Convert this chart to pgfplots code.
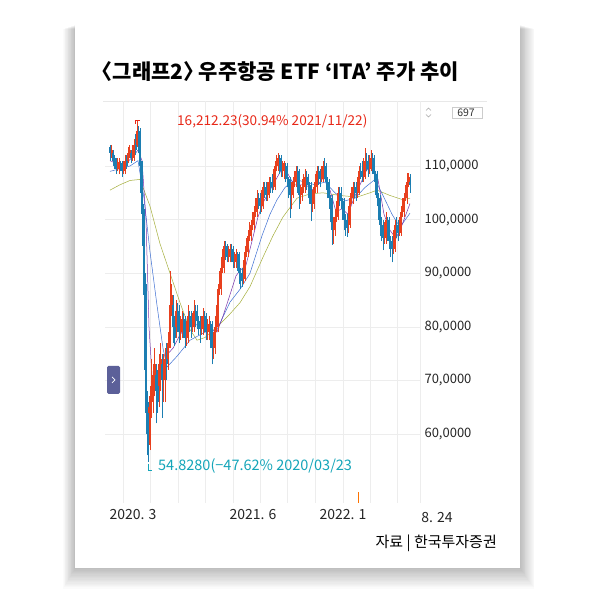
\documentclass[border=0pt]{standalone}
\usepackage{pgfplots}
\pgfplotsset{compat=1.18}
\usepackage{pgfplotstable}
\usepackage{fontspec}
\setmainfont{Noto Sans CJK KR}
\definecolor{upred}{RGB}{232,64,30}
\definecolor{dnblue}{RGB}{28,126,178}
\definecolor{annred}{RGB}{232,40,24}
\definecolor{annteal}{RGB}{20,165,185}
\definecolor{mapurple}{RGB}{120,50,170}
\definecolor{mablue}{RGB}{60,110,210}
\definecolor{maolive}{RGB}{165,175,60}
\definecolor{btn}{RGB}{92,96,153}

\pgfplotstableread{
x o h l c
119 109.5 111.5 108.5 110.5
125 109 112 108.5 111
128 111 113.5 110.5 112.5
134 111.5 115 111 114
137 114 118.6 113.5 116.5
150 58 69 57 67
153 67 73 64 71
159 68 75 65 73
165 70 76 66 74
168 74 79 72 77
170 77 90.5 76 84
176 80 85 78 83
182 79 83 78 81.5
188 78 84 77 82
194 80 85 79 83
203 79.5 83.5 78.5 82
209 79 82 77.5 80.5
215 76 82 75 80
218 80 88 79 87
221 87 93 86 91
224 91 96 90 95
230 93 95.5 92 94.5
236 92 94.5 91 93.5
245 89 95 88.5 94
248 94 98 93 97
251 97 100 96 99
254 99 102.5 98 101.5
257 101.5 105.5 100.5 104
263 102.5 107 102 106
269 104.5 108 104 107
275 106 111 105.5 110
278 110 112.5 109 111.5
284 109 111 107.5 110
293 104.5 108 104 107
296 107 110 106 109
302 104.5 107.5 103.5 106
305 106 109.5 105 108
314 103 107 102 106
317 106 110 105 109
323 107.5 111 107 110
335 98 102 97 100.5
338 100.5 106 100 105
350 99 105 98.5 104
353 104 107 103 106
359 105 110 104.5 109
365 108 113.4 107.5 111
371 109.5 113 109 111.5
386 96.5 101.5 95.5 100
395 94.5 100 94 99
401 97.5 102.5 97 101.5
404 101.5 105 100.5 104
407 104 108.7 103 107
111.5 112 114 111.5 113
117.5 109.5 111.5 109 110.8
123.5 109 111 108.5 110.2
129.5 112.5 114 111.5 113
132.5 111.5 114 111 113
149 59 67 58 65
151.5 66 74 63 70
154.5 71 76 67 73
160.5 72 77 68 74
163.5 70 75 66 72
169 77 83 76 79
171.5 84 88 82 86
180.5 79 82 77.5 81
186.5 78 81 76.5 80
192.5 80 82.5 79 81.5
201.5 79.5 82 78.5 81
207.5 79 81.5 77.5 80
213.5 76 79 74 78
216.5 80 84 79 83
219.5 87 90.5 86 89
222.5 91 94.5 90 93
228.5 93 95 92 94
234.5 92 94 91 93
243.5 89 92.5 88 91.5
246.5 94 96.5 93 95.5
249.5 97 99.5 96 98
252.5 99 101.5 98 100
255.5 101.5 104 100.5 103
261.5 102.5 105.5 101.5 104.5
267.5 104.5 107 103.5 106
273.5 106 109.5 105.5 108.5
276.5 110 112 109 111
282.5 109 111 108 110.5
291.5 104.5 107 102 106
294.5 107 109 106 108
300.5 104.5 106.5 103 105.5
303.5 106 108.5 105 107.5
312.5 103 105.5 101.5 104.5
315.5 106 108.5 105 107.5
321.5 107.5 110 107 109
333.5 98 100.5 95.5 99
336.5 100.5 103.5 99.5 102.5
348.5 99 102.5 97.5 101.5
351.5 104 106 103 105
357.5 105 108 104 107
363.5 108 111.5 107 110
369.5 109.5 112 108.5 110.5
384.5 96.5 99.5 95.5 98.5
393.5 94.5 98 93.5 97
399.5 97.5 100.5 97 99.5
402.5 101.5 104 100.5 103
405.5 104 106.5 103.5 105.5
408.5 107 108.7 106 108
}\upcandles

\pgfplotstableread{
x o h l c
110 113.5 114 111 112.5
113 112.5 113 110 111
116 111 111.5 108.5 109.5
122 110.5 111 108 109
131 112.5 113 110.5 111.5
140 116.5 117 108 110
142 110 111 99 101
144 101 102 84 86
146 86 88 60 64
148 64 66 54.83 58
156 71 73 62 68
162 73 75 63 70
173 84 86 77 80
179 83 84 77 79
185 81.5 82 76 78
191 82 83 78 80
197 83 84 79.5 81
200 81 82 77 79.5
206 82 82.5 77.5 79
212 80.5 81 73 76
227 95 95.5 92 93
233 94.5 95 91 92
239 93.5 94 88 90
242 90 91 87.5 89
260 104 105 101 102.5
266 106 107 103.5 104.5
272 107 108.5 105 106
281 111.5 112 108 109
287 110 110.5 106 107.5
290 107.5 108 100.3 104.5
299 109 109.5 102 104.5
308 108 108.5 104 106.5
311 106.5 107 99.7 103
320 109 109.5 106 107.5
326 110 110.5 105.5 107
329 107 107.5 102 104
332 104 104.5 95.3 98
341 105 106 102 103.5
344 103.5 104 98 100
347 100 101 96.8 99
356 106 107 103.5 105
362 109 111 107 108
368 111 112 108 109.5
374 111.5 112 107 108.5
377 108.5 109 102.5 104
380 104 104.5 97 99
383 99 100 94.3 96.5
389 100 100.5 94.5 96
392 96 97 92 94.5
398 99 100 96 97.5
410 107 108.5 105 106.5
114.5 111.5 112 109.5 110
120.5 110.5 111 109 109.5
126.5 111 112 109.5 110
135.5 114 116 112 113
138.5 116 117.5 112.5 114
141 110 111 103 105
143 101 103 92 95
145 86 90 66 72
147 64 68 56 60
157.5 69 72 64 66
166.5 74 77 70 73
174.5 80 82 76.5 78
177.5 83 84.5 79 81
183.5 81.5 82.5 78 80
189.5 82 83 79 81
195.5 83 84 80 82
198.5 81 82 78.5 80
204.5 82 83 79 80.5
210.5 80.5 81 76 79
225.5 95 96 92.5 94
231.5 94.5 95.5 92 93
237.5 93.5 94 90.5 92
240.5 90 91 87 88.5
258.5 104 105 102 103
264.5 106 107 104 105
270.5 107 108 105 106.5
279.5 111.5 112 108.5 110
285.5 110 110.5 107 108.5
288.5 107.5 108 104 106
297.5 109 110 105 107
306.5 108 109 105.5 107
309.5 106.5 107 103 105
318.5 109 110 106.5 108
324.5 110 111.5 107.5 108.5
327.5 107 108 104 105.5
330.5 104 104.5 99.5 101
339.5 105 106 102.5 104
342.5 103.5 104 100 101.5
345.5 100 101 97 98.5
354.5 106 107 104 105.5
360.5 109 110.5 107.5 108.5
366.5 111 112.5 109 110
372.5 111.5 112.5 108.5 110
375.5 108.5 109 104.5 106
378.5 104 105 100 101.5
381.5 99 100.5 96 98
387.5 100 100.5 96 98
390.5 96 97 93 95
396.5 99 100.5 96.5 98
}\downcandles

\pgfplotstableread{
x y
110 111
116 110.5
122 110
128 110.8
134 112
138 113
142 111
146 100
149 80
153 68
158 70
163 73
168 75
173 76
180 78.5
186 80
192 80
198 80.5
204 80.5
210 79.5
217 79
223 82
230 86
236 89.5
240 90.5
246 91.5
252 96
258 100.5
264 103.5
270 105.5
276 107.5
282 109.5
288 108.5
294 106.5
300 106.5
306 106.5
312 105.5
318 106.5
324 108
330 105.5
336 101.5
342 102
348 101
354 104
360 106.5
366 109
372 110.5
378 107.5
384 101
390 98
396 96.5
402 99
410 103
}\mashort

\pgfplotstableread{
x y
110 109
120 109.5
130 110
138 111
144 104
150 94
157 84
163 76
167 72.5
177 74.5
190 77.5
205 79
217 79.5
230 84.6
240 87
250 90
262 97
270 101
277 103.7
285 106
295 107.5
305 107
315 106.5
325 107
335 105
345 103.5
355 104
365 106
375 107.5
383 104.5
392 101
400 98.6
410 101.2
}\mamid

\pgfplotstableread{
x y
110 105.5
120 106.5
130 107.3
140 107.5
150 102.5
160 95.5
170 90
180 84.5
190 79.5
197 77.5
205 78
217 80
228 82
240 84.5
250 87.5
263 93
273 97
283 100.5
297 104
310 104.8
323 105
340 104.5
357 104.2
370 105
377 105.5
390 104.5
403 103.7
410 104
}\malong

\begin{document}
\begin{tikzpicture}[x=1pt,y=1pt]
% page background
\fill[white] (0,0) rectangle (600,593);
% card shadow
\foreach \i in {1,...,16}{
  \fill[black,opacity=0.016] (75-\i*0.75,25-\i*1.3) rectangle (520+\i*0.9,568-\i*0.25);
}
\fill[white] (75,25) rectangle (520,568);

% title
\node[anchor=west,inner sep=0pt] at (102,521)
  {\bfseries\fontsize{21}{21}\selectfont \makebox[0.5em][r]{〈}그래프2\makebox[0.5em][l]{〉} 우주항공 ETF ‘ITA’ 주가 추이};

% top line
\draw[black!9,line width=0.6pt] (103,492) -- (487,492);

\begin{axis}[
  at={(105pt,90pt)}, anchor=south west,
  scale only axis, width=315pt, height=402pt,
  xmin=105, xmax=420, ymin=47.13, ymax=122.13,
  axis line style={draw=none},
  tick style={draw=none},
  clip=false,
  xtick={123,150,178,205,233,260,287,315,343,370,397,420},
  xticklabels={},
  xmajorgrids, ymajorgrids,
  grid style={black!7,line width=0.5pt},
  extra x ticks={133,253,343},
  extra x tick labels={2020. 3,2021. 6,2022. 1},
  extra x tick style={grid=none, xticklabel style={yshift=-3pt}},
  ytick={60,70,80,90,100,110},
  yticklabels={{60,0000},{70,0000},{80,0000},{90,0000},{100,0000},{110,0000}},
  yticklabel pos=right,
  yticklabel style={anchor=west,xshift=1pt},
  ticklabel style={font=\fontsize{13}{13}\selectfont, text=black!85},
  xticklabel style={font=\fontsize{14}{14}\selectfont},
  /pgf/number format/assume math mode=true,
]
% moving averages
\addplot[maolive, line width=0.5pt] table[x=x,y=y] {\malong};
\addplot[mablue, line width=0.5pt] table[x=x,y=y] {\mamid};
\addplot[mapurple, line width=0.5pt] table[x=x,y=y] {\mashort};
% wicks
\addplot[upred, line width=0.5pt, quiver={u=0, v=\thisrow{h}-\thisrow{l}}] table[x=x,y=l] {\upcandles};
\addplot[dnblue, line width=0.5pt, quiver={u=0, v=\thisrow{h}-\thisrow{l}}] table[x=x,y=l] {\downcandles};
% bodies
\addplot[upred, line width=2pt, quiver={u=0, v=\thisrow{c}-\thisrow{o}}] table[x=x,y=o] {\upcandles};
\addplot[dnblue, line width=2pt, quiver={u=0, v=\thisrow{c}-\thisrow{o}}] table[x=x,y=o] {\downcandles};
\end{axis}

% x label beyond plot
\node[font=\fontsize{14}{14}\selectfont, text=black!85] at (437,75.5) {8. 24};

% annotations
\node[anchor=west,inner sep=0pt,text=annred] at (177,472)
  {\fontsize{13.6}{13.6}\selectfont 16,212.23(30.94\% 2021/11/22)};
\draw[annred,line width=0.8pt] (135,469) -- (135,472.5) -- (140,472.5);
\node[anchor=west,inner sep=0pt,text=annteal] at (158,127)
  {\fontsize{14.5}{14.5}\selectfont 54.8280(−47.62\% 2020/03/23};
\draw[annteal,line width=0.8pt] (148,129) -- (148,123) -- (152,123);

% value box
\draw[black!20,line width=0.5pt] (452,475) rectangle (482,486);
\node[font=\fontsize{10.5}{10.5}\selectfont, text=black!80] at (466,480.5) {697};
\draw[black!35,line width=0.6pt] (426,482.5) -- (428.5,485) -- (431,482.5);
\draw[black!35,line width=0.6pt] (426,478.5) -- (428.5,476) -- (431,478.5);

% button
\fill[btn,rounded corners=1.5pt] (107,199) rectangle (120,227);
\draw[white,line width=0.7pt] (112,216) -- (115,213) -- (112,210);

% orange tick
\draw[orange!90!red,line width=0.8pt] (358,90) -- (358,101);

% source
\node[anchor=east,inner sep=0pt] at (497,50)
  {\fontsize{15}{15}\selectfont 자료 | 한국투자증권};
\end{tikzpicture}
\end{document}
